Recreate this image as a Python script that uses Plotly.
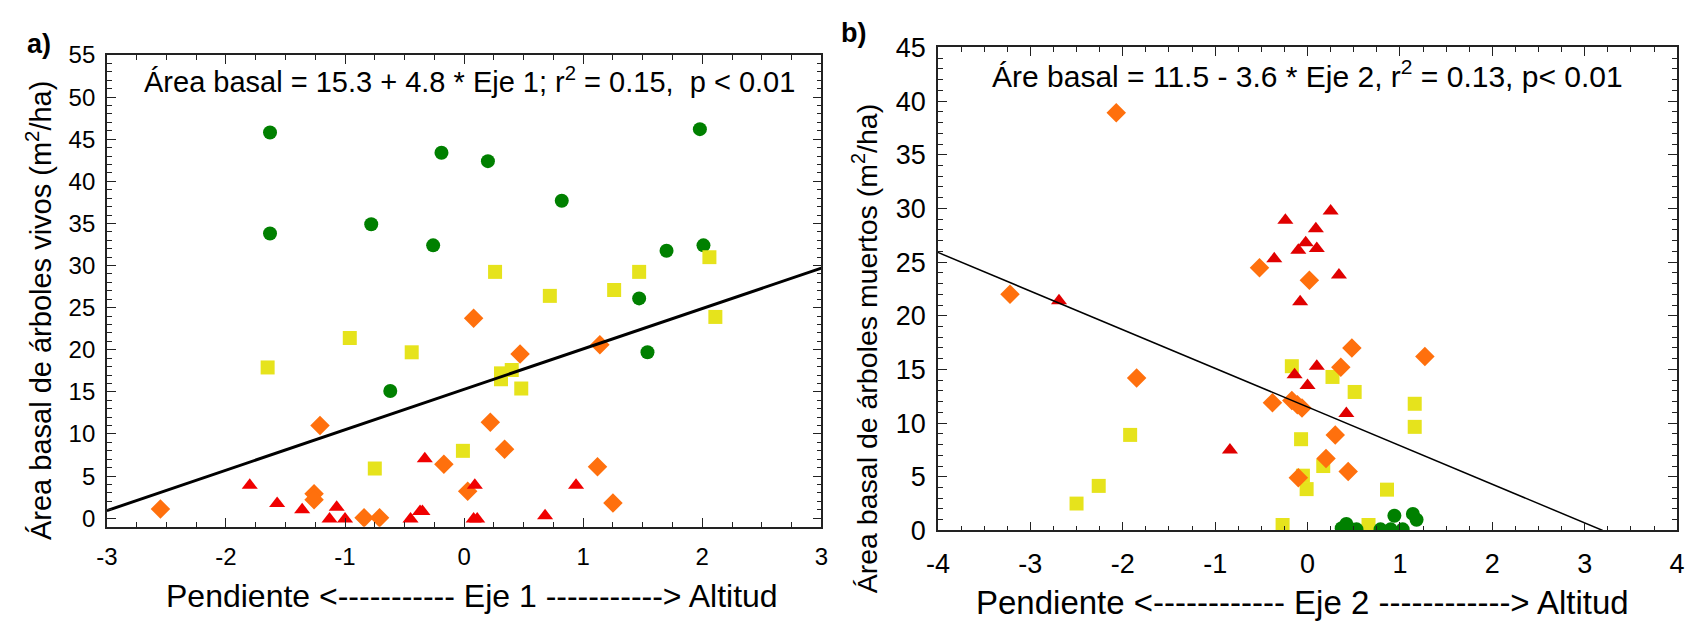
import numpy as np
import plotly.graph_objects as go

W, H = 1696, 635

# ---- Panel a) : live basal area vs. ordination axis 1 ----
a_circ_x = [-1.63, -1.63, -0.78, -0.19, 0.20, 0.82, -0.26, 1.98, 2.01, 1.70, 1.47, 1.54, -0.62]
a_circ_y = [45.8, 33.8, 34.9, 43.4, 42.4, 37.7, 32.4, 46.2, 32.4, 31.75, 26.1, 19.7, 15.1]

a_sq_x = [0.26, 1.47, 0.72, 1.26, 2.06, 2.11, -0.44, 0.31, 0.40, 0.31, 0.48, -0.01, -1.65, -0.96, -0.75]
a_sq_y = [29.25, 29.25, 26.4, 27.1, 31.0, 23.9, 19.7, 17.2, 17.6, 16.5, 15.4, 8.0, 17.9, 21.4, 5.9]

a_dia_x = [0.08, 0.47, 1.14, 0.22, 0.34, -0.17, 1.12, 0.03, 1.25, -1.21, -2.55, -1.26, -1.26, -0.84, -0.71]
a_dia_y = [23.75, 19.5, 20.6, 11.4, 8.2, 6.4, 6.1, 3.2, 1.8, 11.0, 1.1, 2.9, 2.2, 0.05, 0.05]

a_tri_x = [-1.80, -1.57, -1.36, -1.07, -1.13, -1.00, -0.45, -0.37, -0.35, -0.33, 0.09, 0.08, 0.11, 0.68, 0.94]
a_tri_y = [3.9, 1.75, 1.0, 1.3, -0.1, -0.1, -0.1, 0.8, 0.8, 7.05, 3.9, -0.1, -0.1, 0.3, 3.9]

a_intercept, a_slope = 15.3, 4.8

a_xticks = [-3, -2, -1, 0, 1, 2, 3]
a_xtick_text = ["-3", "-2", "-1", "0", "1", "2", "3"]
a_yticks = [0, 5, 10, 15, 20, 25, 30, 35, 40, 45, 50, 55]

# ---- Panel b) : dead basal area vs. ordination axis 2 ----
b_circ_x = [0.94, 1.14, 1.18, 0.42, 0.37, 0.47, 0.53, 0.79, 0.90, 1.03]
b_circ_y = [1.37, 1.54, 1.0, 0.6, 0.2, 0.1, 0.1, 0.1, 0.1, 0.1]

b_sq_x = [-2.50, -2.26, -1.92, -0.17, 0.27, 0.51, 1.16, 1.16, -0.07, 0.17, -0.05, -0.01, 0.86, -0.27, 0.66]
b_sq_y = [2.5, 4.15, 8.9, 15.3, 14.3, 12.9, 11.8, 9.65, 8.5, 6.0, 5.1, 3.85, 3.8, 0.5, 0.5]

b_dia_x = [-2.07, -3.22, -0.52, 0.02, -1.85, 0.48, 1.27, 0.36, -0.38, -0.17, -0.11, -0.06, 0.30, 0.20, 0.44, -0.10]
b_dia_y = [38.9, 22.0, 24.46, 23.3, 14.2, 17.0, 16.2, 15.2, 11.9, 12.1, 11.7, 11.4, 8.9, 6.7, 5.5, 4.9]

b_tri_x = [-2.69, -0.84, -0.24, 0.25, 0.09, -0.02, -0.10, 0.10, -0.36, 0.34, -0.08, 0.10, -0.14, 0.00, 0.42]
b_tri_y = [21.4, 7.5, 28.9, 29.75, 28.1, 26.8, 26.1, 26.26, 25.3, 23.8, 21.3, 15.3, 14.5, 13.5, 10.9]

b_intercept, b_slope = 11.5, -3.6

b_xticks = [-4, -3, -2, -1, 0, 1, 2, 3, 4]
b_xtick_text = ["-4", "-3", "-2", "-1", "0", "1", "2", "3", "4"]
b_yticks = [0, 5, 10, 15, 20, 25, 30, 35, 40, 45]

GREEN, YELLOW, ORANGE, RED = "#008000", "#E6E31C", "#FF700D", "#F00000"
RED_B = "#E00000"

fig = go.Figure()


def add_points(xs, ys, symbol, color, size, xa, ya):
    fig.add_trace(go.Scatter(
        x=xs, y=ys, mode="markers", xaxis=xa, yaxis=ya,
        marker=dict(symbol=symbol, color=color, size=size, line=dict(width=0)),
        showlegend=False, hoverinfo="x+y"))


# panel a
add_points(a_circ_x, a_circ_y, "circle", GREEN, 14, "x", "y")
add_points(a_sq_x, a_sq_y, "square", YELLOW, 14, "x", "y")
add_points(a_dia_x, a_dia_y, "diamond", ORANGE, 15, "x", "y")
add_points(a_tri_x, a_tri_y, "triangle-up", RED, 14, "x", "y")
lx_a = np.array([-3.0, 3.0])
fig.add_trace(go.Scatter(x=lx_a, y=a_intercept + a_slope * lx_a, mode="lines",
                         line=dict(color="black", width=3), xaxis="x", yaxis="y",
                         showlegend=False, hoverinfo="skip"))

# panel b
add_points(b_sq_x, b_sq_y, "square", YELLOW, 14, "x2", "y2")
add_points(b_tri_x, b_tri_y, "triangle-up", RED_B, 14, "x2", "y2")
add_points(b_dia_x, b_dia_y, "diamond", ORANGE, 15, "x2", "y2")
add_points(b_circ_x, b_circ_y, "circle", GREEN, 14, "x2", "y2")
lx_b = np.array([-4.0, -b_intercept / b_slope])
fig.add_trace(go.Scatter(x=lx_b, y=b_intercept + b_slope * lx_b, mode="lines",
                         line=dict(color="black", width=1.5), xaxis="x2", yaxis="y2",
                         showlegend=False, hoverinfo="skip"))

FONT = "Liberation Sans, Arial, sans-serif"


def axis(rng, vals, text, minor, dom, anchor, fsize, standoff):
    return dict(range=rng, tickmode="array", tickvals=vals, ticktext=text,
                domain=dom, anchor=anchor,
                ticks="inside", ticklen=9, tickwidth=1.2, tickcolor="#222",
                minor=dict(dtick=minor, tick0=0, ticks="inside", ticklen=5,
                           tickwidth=1, tickcolor="#222"),
                showline=True, linecolor="#222", linewidth=1.5, mirror="allticks",
                showgrid=False, zeroline=False, ticklabelstandoff=standoff,
                tickfont=dict(family=FONT, size=fsize, color="black"))


def px(xp):
    return xp / W


def py(yp):
    return 1 - yp / H


fig.update_layout(
    width=W, height=H, margin=dict(l=0, r=0, t=0, b=0),
    paper_bgcolor="white", plot_bgcolor="white",
    xaxis=axis([-3, 3], a_xticks, a_xtick_text, 0.25, [px(96), px(819)], "y", 24, 8),
    yaxis=axis([-1, 55], a_yticks, [str(v) for v in a_yticks], 1, [py(537), py(42)], "x", 24, 5),
    xaxis2=axis([-4, 4], b_xticks, b_xtick_text, 0.25, [px(937), px(1685)], "y2", 27, 8),
    yaxis2=axis([0, 45], b_yticks, [str(v) for v in b_yticks], 1, [py(541), py(34)], "x2", 27, 5),
)

annots = [
    # panel labels
    dict(text="<b>a)</b>", x=px(27), y=py(30), size=27),
    dict(text="<b>b)</b>", x=px(852), y=py(19), size=27),
    # regression equations
    dict(text="Área basal = 15.3 + 4.8 * Eje 1; r<sup>2</sup> = 0.15,  p &lt; 0.01",
         x=px(463), y=py(68), size=29),
    dict(text="Áre basal = 11.5 - 3.6 * Eje 2, r<sup>2</sup> = 0.13, p&lt; 0.01",
         x=px(1311), y=py(62), size=30),
    # axis titles
    dict(text="Pendiente &lt;----------- Eje 1 -----------&gt; Altitud",
         x=px(465), y=py(610), size=32),
    dict(text="Pendiente &lt;------------ Eje 2 ------------&gt; Altitud",
         x=px(1306), y=py(617), size=33),
    dict(text="Área basal de árboles vivos (m<sup>2</sup>/ha)",
         x=px(28), y=py(310), size=29, angle=-90),
    dict(text="Área basal de árboles muertos (m<sup>2</sup>/ha)",
         x=px(864), y=py(350), size=28.5, angle=-90),
]
for a in annots:
    fig.add_annotation(text=a["text"], x=a["x"], y=a["y"], xref="paper", yref="paper",
                       xanchor="center", yanchor="middle", showarrow=False,
                       textangle=a.get("angle", 0),
                       font=dict(family=FONT, size=a["size"], color="black"))

fig.write_html("out.html")
